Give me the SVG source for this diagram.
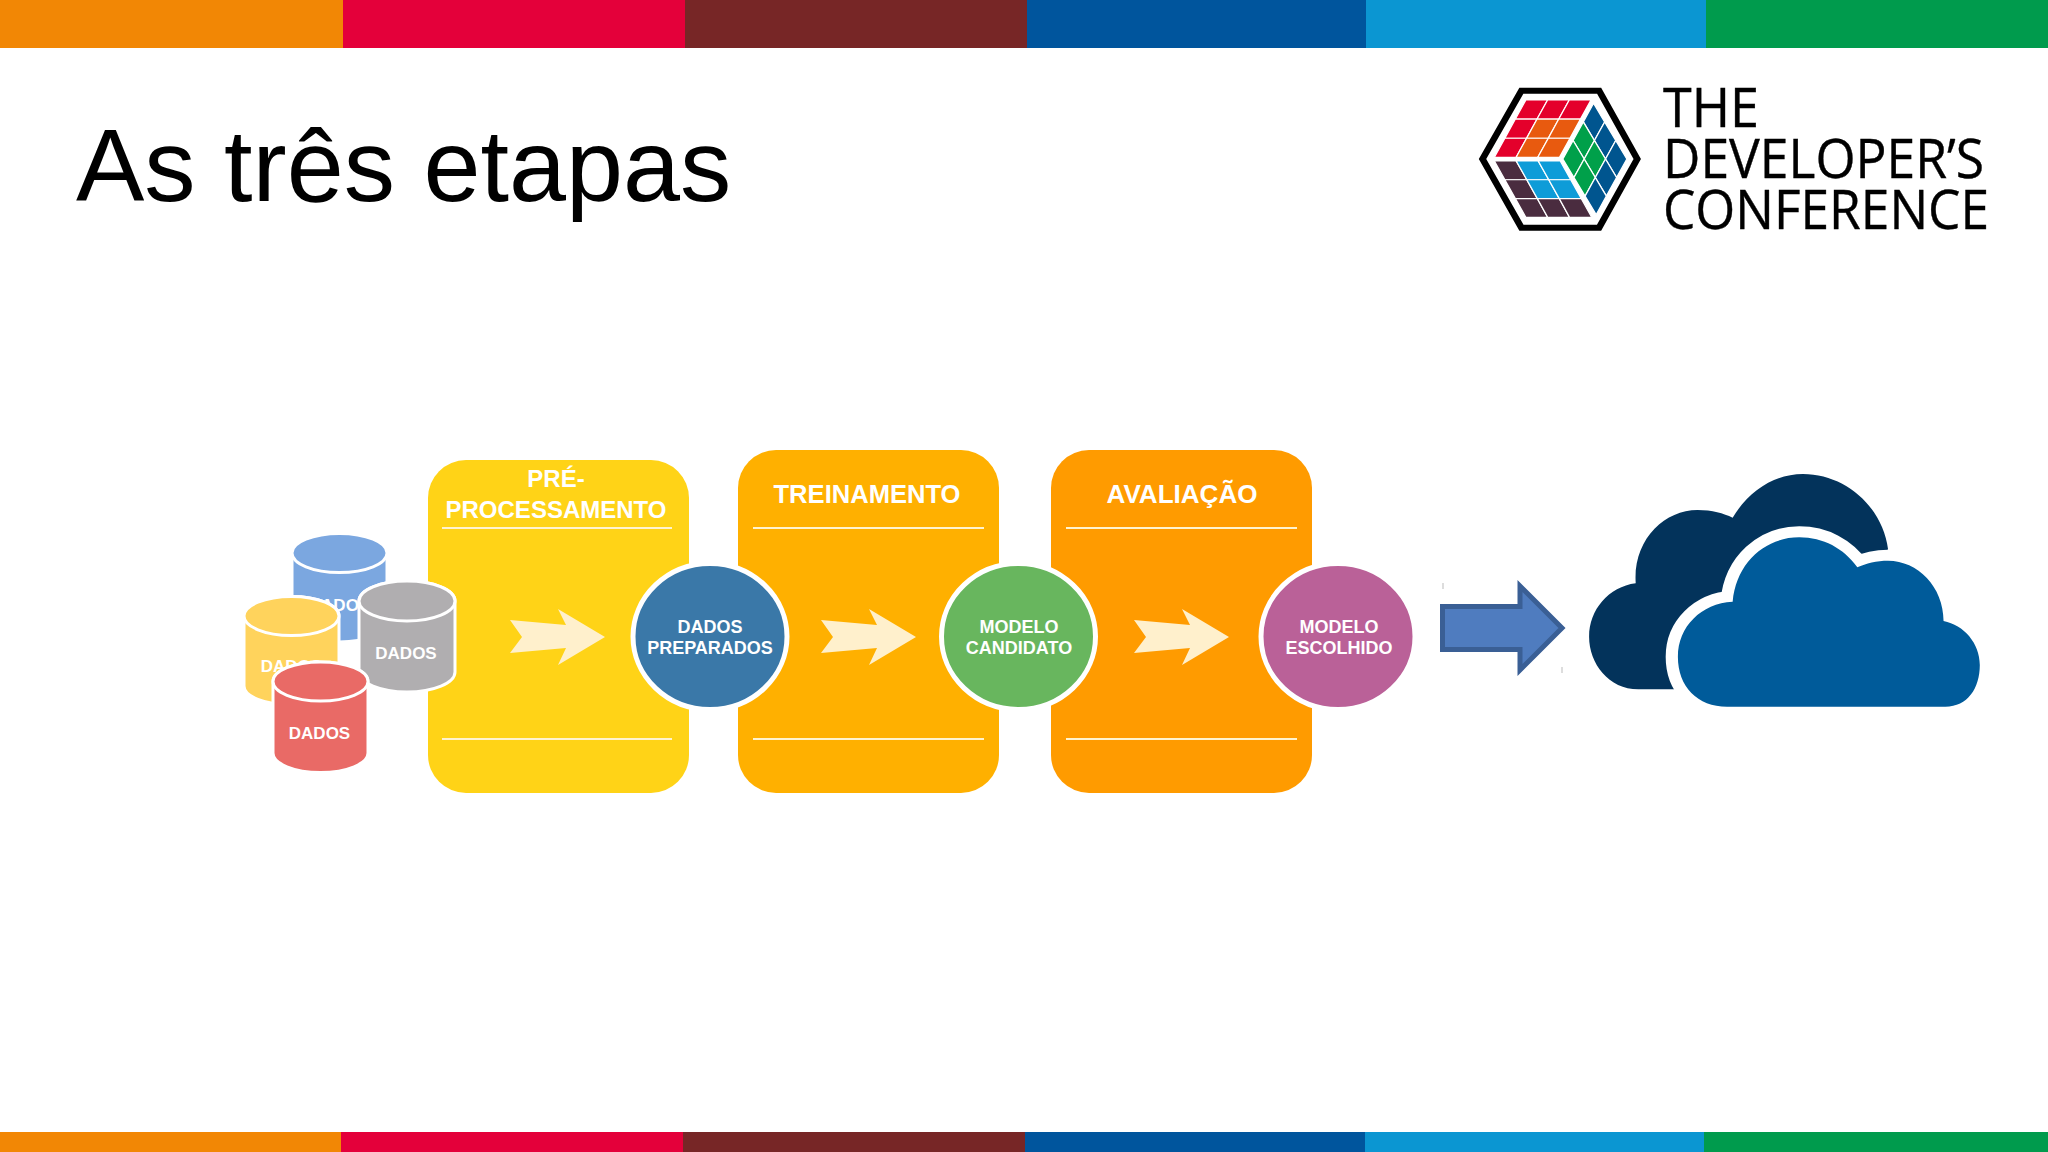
<svg xmlns="http://www.w3.org/2000/svg" width="2048" height="1152" viewBox="0 0 2048 1152">
<style>
.box{stroke:none}
.rule{stroke:#FFF3CF;stroke-width:2;fill:none}
.head{font:bold 25px "Liberation Sans",Arial,sans-serif;fill:#fff;text-anchor:middle}
.lbl{font:bold 18px "Liberation Sans",Arial,sans-serif;fill:#fff;text-anchor:middle}
.db{font:bold 17px "Liberation Sans",Arial,sans-serif;fill:#fff;text-anchor:middle}
.cyl{stroke:#fff;stroke-width:3}
.disc{stroke:#fff;stroke-width:5}
.chev{fill:#FFF0CC}
.lt{font-family:"Open Sans","Noto Sans",sans-serif;font-size:54px;fill:#000;stroke:#000;stroke-width:.4}
.cell{stroke:#fff;stroke-width:3.5}
.r{fill:#E4002B}.o{fill:#E85A0F}.g{fill:#00A04A}.b{fill:#00558F}.c{fill:#0E9CD8}.d{fill:#4A2C3F}
</style>
<rect width="2048" height="1152" fill="#fff"/>
<g id="top-band">
<rect x="0" y="0" width="343" height="48" fill="#F28705"/>
<rect x="343" y="0" width="342" height="48" fill="#E4003A"/>
<rect x="685" y="0" width="342" height="48" fill="#772626"/>
<rect x="1027" y="0" width="339" height="48" fill="#00559D"/>
<rect x="1366" y="0" width="340" height="48" fill="#0B96D2"/>
<rect x="1706" y="0" width="342" height="48" fill="#009B4D"/>
</g>
<g id="bottom-band">
<rect x="0" y="1132" width="341" height="20" fill="#F28705"/>
<rect x="341" y="1132" width="342" height="20" fill="#E4003A"/>
<rect x="683" y="1132" width="342" height="20" fill="#772626"/>
<rect x="1025" y="1132" width="340" height="20" fill="#00559D"/>
<rect x="1365" y="1132" width="339" height="20" fill="#0B96D2"/>
<rect x="1704" y="1132" width="344" height="20" fill="#009B4D"/>
</g>
<text id="title" x="76" y="201" font-family="Liberation Sans, Arial, sans-serif" font-size="102.500" fill="#000">As três etapas</text>
<g id="logo">
<g transform="translate(1440 60) scale(.37 .3333)">
<polygon points="220,92 430,92 533,297 430,503 220,503 115,297" fill="#fff" stroke="#000" stroke-width="18"/>
<g class="cell">
<polygon class="r" points="232,120 290.7,120 262.3,177.3 203.7,177.3"/>
<polygon class="r" points="290.7,120 349.3,120 321,177.3 262.3,177.3"/>
<polygon class="r" points="349.3,120 408,120 379.7,177.3 321,177.3"/>
<polygon class="r" points="203.7,177.3 262.3,177.3 234,234.7 175.3,234.7"/>
<polygon class="o" points="262.3,177.3 321,177.3 292.7,234.7 234,234.7"/>
<polygon class="o" points="321,177.3 379.7,177.3 351.3,234.7 292.7,234.7"/>
<polygon class="r" points="175.3,234.7 234,234.7 205.7,292 147,292"/>
<polygon class="o" points="234,234.7 292.7,234.7 264.3,292 205.7,292"/>
<polygon class="o" points="292.7,234.7 351.3,234.7 323,292 264.3,292"/>
<polygon class="d" points="147,303 206,303 234.6,359.3 175.3,359.3"/>
<polygon class="c" points="206,303 265.5,303 294,359.3 234.6,359.3"/>
<polygon class="c" points="265.5,303 325,303 353.3,359.3 294,359.3"/>
<polygon class="d" points="175.3,359.3 234.6,359.3 263,415.7 203.7,415.7"/>
<polygon class="c" points="234.6,359.3 294,359.3 322.3,415.7 263,415.7"/>
<polygon class="c" points="294,359.3 353.3,359.3 381.7,415.7 322.3,415.7"/>
<polygon class="d" points="203.7,415.7 263,415.7 291,472 232,472"/>
<polygon class="d" points="263,415.7 322.3,415.7 350,472 291,472"/>
<polygon class="d" points="322.3,415.7 381.7,415.7 410,472 350,472"/>
<polygon class="b" points="415,130 445,185.7 417.3,241.3 387.3,185.7"/>
<polygon class="b" points="445,185.7 475,241.3 447.3,297 417.3,241.3"/>
<polygon class="b" points="475,241.3 505,297 477.3,352.7 447.3,297"/>
<polygon class="g" points="387.3,185.7 417.3,241.3 389.7,297 359.7,241.3"/>
<polygon class="g" points="417.3,241.3 447.3,297 419.7,352.7 389.7,297"/>
<polygon class="b" points="447.3,297 477.3,352.7 449.7,408.4 419.7,352.7"/>
<polygon class="g" points="359.7,241.3 389.7,297 362,352.7 332,297"/>
<polygon class="g" points="389.7,297 419.7,352.7 392,408.4 362,352.7"/>
<polygon class="b" points="419.7,352.7 449.7,408.4 422,464 392,408.4"/>
</g>
</g>
<text class="lt" x="1663" y="127" textLength="96" lengthAdjust="spacingAndGlyphs">THE</text>
<text class="lt" x="1663" y="178" textLength="321" lengthAdjust="spacingAndGlyphs">DEVELOPER’S</text>
<text class="lt" x="1663" y="229" textLength="326" lengthAdjust="spacingAndGlyphs">CONFERENCE</text>
</g>
<g id="stage-preprocessamento">
<rect class="box" x="428" y="460" width="261" height="333" rx="38" fill="#FFD317"/>
<line class="rule" x1="442" y1="528" x2="672" y2="528"/>
<line class="rule" x1="442" y1="739" x2="672" y2="739"/>
<text class="head" x="556" y="487" style="font-size:24px">PRÉ-</text>
<text class="head" x="556" y="518" style="font-size:24px">PROCESSAMENTO</text>
</g>
<g id="stage-treinamento">
<rect class="box" x="738" y="450" width="261" height="343" rx="38" fill="#FFB000"/>
<line class="rule" x1="753" y1="528" x2="984" y2="528"/>
<line class="rule" x1="753" y1="739" x2="984" y2="739"/>
<text class="head" x="867" y="503" textLength="187" lengthAdjust="spacingAndGlyphs">TREINAMENTO</text>
</g>
<g id="stage-avaliacao">
<rect class="box" x="1051" y="450" width="261" height="343" rx="38" fill="#FF9B00"/>
<line class="rule" x1="1066" y1="528" x2="1297" y2="528"/>
<line class="rule" x1="1066" y1="739" x2="1297" y2="739"/>
<text class="head" x="1182" y="503" textLength="151" lengthAdjust="spacingAndGlyphs">AVALIAÇÃO</text>
</g>
<g id="db-blue">
<path class="cyl" fill="#7BA7E0" d="M292,553 A47.5,19.5 0 0 1 387,553 V623 A47.500,19 0 0 1 292,623 Z"/>
<ellipse class="cyl" cx="339.500" cy="553" rx="47.500" ry="19.500" fill="#7BA7E0"/>
<text class="db" x="339.500" y="611">DADOS</text>
</g>
<g id="db-yellow">
<path class="cyl" fill="#FFD35C" d="M244,616 A47.500,19.500 0 0 1 339,616 V686 A47.500,19 0 0 1 244,686 Z"/>
<ellipse class="cyl" cx="291.500" cy="616" rx="47.500" ry="19.500" fill="#FFD35C"/>
<text class="db" x="291.500" y="672">DADOS</text>
</g>
<g id="db-gray">
<path class="cyl" fill="#B0AEB0" d="M359,601 A48,20 0 0 1 455,601 V672 A48,20 0 0 1 359,672 Z"/>
<ellipse class="cyl" cx="407" cy="601" rx="48" ry="20" fill="#B0AEB0"/>
<text class="db" x="406" y="659">DADOS</text>
</g>
<g id="db-red">
<path class="cyl" fill="#E96A66" d="M273,681.500 A47.500,19.500 0 0 1 368,681.500 V753 A47.500,19.500 0 0 1 273,753 Z"/>
<ellipse class="cyl" cx="320.500" cy="681.500" rx="47.500" ry="19.500" fill="#E96A66"/>
<text class="db" x="319.500" y="739">DADOS</text>
</g>
<g id="connectors">
<polygon id="chev1" class="chev" points="510,620 566,625 558,609 605,637 558,665 566,648 510,653 522,637"/>
<polygon id="chev2" class="chev" points="821,620 877,625 869,609 916,637 869,665 877,648 821,653 833,637"/>
<polygon id="chev3" class="chev" points="1134,620 1190,625 1182,609 1229,637 1182,665 1190,648 1134,653 1146,637"/>
<polygon id="arrow" points="1442.500,606.500 1520,606.500 1520,586 1562,628 1520,670 1520,649.500 1442.500,649.500" fill="#4F7CBF" stroke="#3A5F95" stroke-width="5"/>
<line x1="1443" y1="583" x2="1443" y2="589" stroke="#bbb" stroke-width="1"/>
<line x1="1562" y1="667" x2="1562" y2="673" stroke="#bbb" stroke-width="1"/>
</g>
<g id="node-dados-preparados">
<ellipse class="disc" cx="710" cy="636.500" rx="77" ry="73" fill="#3A78A8"/>
<text class="lbl" x="710" y="633">DADOS</text>
<text class="lbl" x="710" y="653.500">PREPARADOS</text>
</g>
<g id="node-modelo-candidato">
<ellipse class="disc" cx="1018.500" cy="636.500" rx="77" ry="73" fill="#68B65E"/>
<text class="lbl" x="1019" y="633">MODELO</text>
<text class="lbl" x="1019" y="653.500">CANDIDATO</text>
</g>
<g id="node-modelo-escolhido">
<ellipse class="disc" cx="1338" cy="636.500" rx="77" ry="73" fill="#BA6198"/>
<text class="lbl" x="1339" y="633">MODELO</text>
<text class="lbl" x="1339" y="653.500">ESCOLHIDO</text>
</g>
<g id="cloud" transform="translate(1420 450) scale(.37 .3333)">
<path fill="#03335B" d="M800,718 L590,718 C510,718 457,640 457,560 C457,480 510,410 583,400 C575,270 660,180 750,180 C790,180 820,190 845,203 C890,120 960,72 1035,72 C1150,72 1250,170 1265,298 L1230,340 Z"/>
<path fill="#005B9A" stroke="#fff" stroke-width="66" paint-order="stroke" d="M845,455 C855,335 935,262 1025,262 C1090,262 1145,295 1182,352 C1205,340 1235,332 1265,332 C1345,332 1415,410 1415,513 C1470,525 1513,580 1513,645 C1513,715 1480,770 1420,770 L830,770 C750,770 697,710 697,620 C697,530 760,460 845,455 Z"/>
</g>
</svg>
